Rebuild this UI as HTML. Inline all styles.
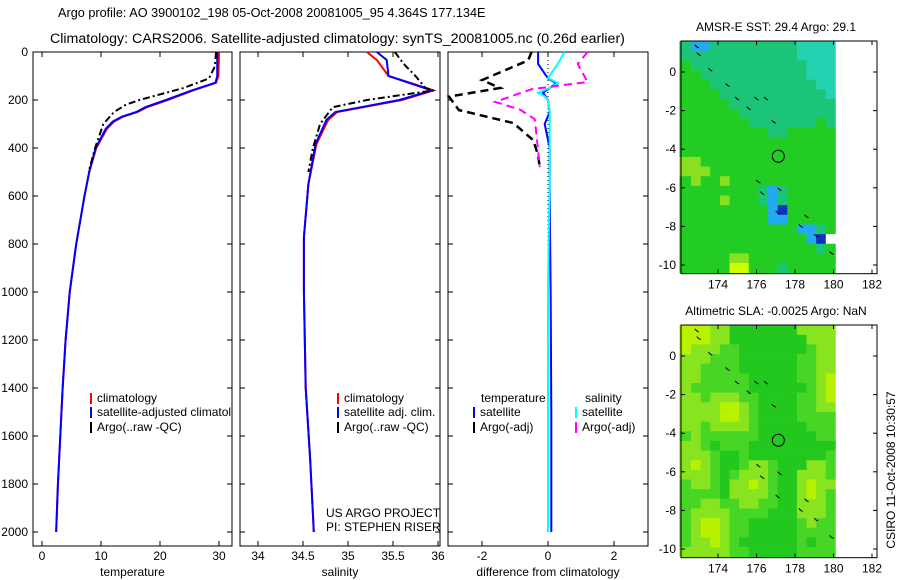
<!DOCTYPE html>
<html><head><meta charset="utf-8"><style>
body{margin:0;background:#fff}
svg{display:block;font-family:"Liberation Sans",Arial,sans-serif}
text{font-size:12px;fill:#000}
text.ttl{font-size:14.2px}
text.ttl1{font-size:12.7px}
</style></head><body>
<svg id="fig" width="900" height="580" viewBox="0 0 900 580">
<rect width="900" height="580" fill="#fff"/>
<text class="ttl1" x="58" y="17">Argo profile: AO 3900102_198 05-Oct-2008 20081005_95 4.364S 177.134E</text>
<text class="ttl" x="50" y="43">Climatology: CARS2006. Satellite-adjusted climatology: synTS_20081005.nc (0.26d earlier)</text>
<g id="g"></g>
</svg>
<script>
// ---------- data ----------
const depthTicks=[0,200,400,600,800,1000,1200,1400,1600,1800,2000];
const tempTicks=[0,10,20,30];
const salTicks=[34,34.5,35,35.5,36];
const diffTicks=[-2,0,2];
const lonTicks=[174,176,178,180,182];
const latTicks=[0,-2,-4,-6,-8,-10];

const tClimD=[0,100,128,160,200,230,250,270,290,320,400,500,600,800,1000,1200,1400,1600,1800,2000];
const tClimV=[30.0,29.9,29.5,25.6,21.3,17.8,16.2,13.7,12.2,11.0,9.2,8.0,7.2,5.8,4.7,4.0,3.5,3.1,2.7,2.4];
const tSatV =[29.7,29.7,29.4,25.4,21.0,17.5,16.0,13.5,12.0,10.8,9.1,8.0,7.2,5.8,4.7,4.0,3.5,3.1,2.7,2.4];
const tArgoD=[0,60,110,150,180,200,220,250,300,400,500];
const tArgoV=[29.5,29.3,28.3,24.0,19.5,16.5,14.2,12.2,10.4,9.0,7.9];

const sClimD=[0,33,100,150,160,200,250,283,383,550,772,1000,1400,1700,2000];
const sClimV=[35.21,35.32,35.45,35.87,35.95,35.60,34.88,34.78,34.65,34.56,34.51,34.51,34.53,34.58,34.62];
const sSatV =[35.32,35.43,35.45,35.85,35.93,35.57,34.86,34.76,34.64,34.56,34.51,34.51,34.53,34.58,34.62];
const sArgoD=[0,20,50,100,150,160,200,230,300,400,500];
const sArgoV=[35.52,35.56,35.62,35.75,35.86,35.95,35.21,34.83,34.69,34.61,34.56];

const dSatTD=[0,50,90,110,130,150,170,200,250,300,400,600,1000,1500,2000];
const dSatTV=[-0.3,-0.3,-0.1,0.0,0.25,0.05,-0.15,0.0,0.05,-0.1,0.05,0.05,0.08,0.1,0.1];
const dSatSD=[0,50,108,130,150,170,185,200,250,300,500,1000,2000];
const dSatSV=[0.5,0.3,0.0,0.3,0.05,-0.3,-0.1,0.0,0.05,0.05,0.05,0.0,0.0];
const dArgoTD=[0,35,70,117,150,186,242,296,367,430,480];
const dArgoTV=[-0.5,-0.6,-1.2,-2.0,-1.45,-3.0,-2.7,-1.05,-0.45,-0.3,-0.25];
const dArgoSD=[0,50,125,155,208,240,280,410,480];
const dArgoSV=[1.2,0.9,1.2,-0.5,-1.6,-0.85,-0.4,-0.3,-0.25];

const sstGrid=["TBBTTTTTTTTTCCCC","TTTTTTTTTTTTCCCC","GTTTTTTTTTTTTCCC","GGTTTTTTTTTTTCCC","GGGTTTTTTTTTTTCC","GGGGTTTTTTTTTTTC","GGGGGTTTTTTTTTTT","GGGGGGTTTTTTTTTT","GGGGGGGTTTTTTTGT","GGGGGGGGGTTGGGGG","GGGGGGGGGGGGGGGG","GGGGGGGGGGGGGGGG","LLGGGGGGGGGGGGGG","LLLGGGGGGGGGGGGG","GLGGLGGGGGGGGGGG","GGGGGGGGTBTGGGGG","GGGGLGGGTBTGGGGG","GGGGGGGGGBDGGGGG","GGGGGGGGGBBGGGGG","GGGGGGGGGGGGBBTG","GGGGGGGGGGGGGBDW","GGGGGGGGGGGGGGTG","GGGGGLLGGGGGGGGG","GGGGGYYGGGTGGGGG"];
const slaGrid=["YYYLLGGGGGGGLLLL","YYYLLGGGGGGGGLLL","YLLLMMGGGGGGGMLL","LLLMMMGGGGGGMMLL","LLMMMMGGGGGGMMLL","LLMMMMMGGGGGMMLY","LMMMMMMGGGGGGMLY","LLMLLLMMGGGGMMLY","LLLLYYLMGGGGMMLL","LLLLYYLMGGGGMMMM","LLMLLLLMGGGGGMMM","MLMMMMMMGGGGGGMM","LLMGMMMGGGGGGGGG","LLLMGGMGGGGGGGGM","LYLMGGMLLMGGGLLM","LLLMGMLLLMGGLLLM","MLLMGLLYLMGGLYLL","MMMMGLLLLMGGLYLM","MMLLMMLLMMGGLLLM","MLLLLMMMMGGGLLLM","MLYYLMMGGGGGMLMM","MLYYLMMGGGGGMMMM","MLLYLMGGGGGGMGMM","LLLLLMMGGGGGMMMM"];
const islandLon=[172.9,173.0,173.6,174.5,175.0,175.6,176.0,176.5,176.9,176.1,176.3,177.2,178.3,178.6,179.1,179.9,177.1];
const islandLat=[1.3,0.9,0.1,-0.7,-1.4,-1.9,-1.4,-1.4,-2.6,-5.7,-6.3,-6.1,-8.0,-7.5,-8.5,-9.4,-7.3];
const argoLon=177.134, argoLat=-4.364;

// ---------- helpers ----------
const NS="http://www.w3.org/2000/svg";
const G=document.getElementById('g');
function mk(tag,attrs,parent){const e=document.createElementNS(NS,tag);for(const k in attrs)e.setAttribute(k,attrs[k]);(parent||G).appendChild(e);return e;}
const Y0=52, KY=0.24;
const yD=d=>Y0+d*KY;
const xT=v=>42+v*5.9;
const xS=v=>258+(v-34)*90;
const xDf=v=>548+v*33;

function panel(x0,x1,ticks,fx,label,name){
  const f=mk('rect',{x:x0,y:52,width:x1-x0,height:494,fill:'none',stroke:'#000','stroke-width':1});
  
  
  ticks.forEach(t=>{const x=fx(t);
    mk('line',{x1:x,x2:x,y1:52,y2:57,stroke:'#000'});
    mk('line',{x1:x,x2:x,y1:541,y2:546,stroke:'#000'});
    const tx=mk('text',{x:x,y:560,'text-anchor':'middle'});tx.textContent=t;
    
    
  });
  depthTicks.forEach(d=>{const y=yD(d);
    mk('line',{x1:x0,x2:x0+5,y1:y,y2:y,stroke:'#000'});
    mk('line',{x1:x1-5,x2:x1,y1:y,y2:y,stroke:'#000'});
  });
  const t=mk('text',{x:(x0+x1)/2,y:576,'text-anchor':'middle'});t.textContent=label;
  
  
}
panel(33,232,tempTicks,xT,'temperature','temperature-panel');
panel(240,440,salTicks,xS,'salinity','salinity-panel');
panel(448,648,diffTicks,xDf,'difference from climatology','difference-panel');
depthTicks.forEach(d=>{const t=mk('text',{x:28,y:yD(d)+4,'text-anchor':'end'});t.textContent=d;
  
  });

function line(D,V,fx,col,dash,name,w){
  const p=mk('polyline',{points:D.map((d,i)=>fx(V[i])+','+yD(d)).join(' '),fill:'none',stroke:col,'stroke-width':w||2,'stroke-dasharray':dash||'none'});
  
  
}
line(tClimD,tClimV,xT,'#f00',null,'temp-climatology-line');
line(tClimD,tSatV,xT,'#00f',null,'temp-satellite-line');
line(tArgoD,tArgoV,xT,'#000','7,3,2,3','temp-argo-line');
line(sClimD,sClimV,xS,'#f00',null,'sal-climatology-line');
line(sClimD,sSatV,xS,'#00f',null,'sal-satellite-line');
line(sArgoD,sArgoV,xS,'#000','7,3,2,3','sal-argo-line');
line([0,2000],[0,0],xDf,'#000','1,3','diff-zero-line',1);
line(dSatTD,dSatTV,xDf,'#00f',null,'diff-temp-satellite-line');
line(dSatSD,dSatSV,xDf,'#0ff',null,'diff-sal-satellite-line');
line(dArgoTD,dArgoTV,xDf,'#000','8,5','diff-temp-argo-line',2.5);
line(dArgoSD,dArgoSV,xDf,'#f0f','8,5','diff-sal-argo-line',2);

// legends
function legend(x,y,col,txt,name){
  mk('line',{x1:x,x2:x,y1:y-9,y2:y+2,stroke:col,'stroke-width':2});
  const t=mk('text',{x:x+6,y:y});t.textContent=txt;
  
  
}
const clip=mk('clipPath',{id:'c1'});mk('rect',{x:33,y:380,width:199,height:60},clip);
const lg1=mk('g',{'clip-path':'url(#c1)'});
[[402,'#f00','climatology'],[416,'#00f','satellite-adjusted climatology'],[431,'#000','Argo(..raw -QC)']].forEach(r=>{
  mk('line',{x1:91,x2:91,y1:r[0]-9,y2:r[0]+2,stroke:r[1],'stroke-width':2},lg1);
  const t=mk('text',{x:97,y:r[0]},lg1);t.textContent=r[2];
  
  
});
legend(338,402,'#f00','climatology','salinity-legend-entry');
legend(338,416,'#00f','satellite adj. clim.','salinity-legend-entry');
legend(338,431,'#000','Argo(..raw -QC)','salinity-legend-entry');
const lt=mk('text',{x:481,y:402});lt.textContent='temperature';


const ls=mk('text',{x:585,y:402});ls.textContent='salinity';


legend(474,416,'#00f','satellite','diff-legend-entry');
legend(474,431,'#000','Argo(-adj)','diff-legend-entry');
legend(576,416,'#0ff','satellite','diff-legend-entry');
legend(576,431,'#f0f','Argo(-adj)','diff-legend-entry');
const u1=mk('text',{x:326,y:517});u1.textContent='US ARGO PROJECT';


const u2=mk('text',{x:326,y:531});u2.textContent='PI: STEPHEN RISER';



// maps
const xL=lon=>718+(lon-174)*19.25;
const sstCol={G:'#22cc22',T:'#1cc478',C:'#22d2b0',L:'#8ae020',B:'#22aaee',D:'#1030c0',Y:'#ccff00',W:'#ffffff'};
const slaCol={G:'#22c81e',M:'#48d626',L:'#88e41e',Y:'#b8f200'};
function map(top,y0lat,grid,cols,title,name){
  const yL=lat=>y0lat-lat*19.3;
  grid.forEach((row,r)=>{for(let c=0;c<row.length;c++){
    const lon=172.1+c*0.5, lat=1.6-r*0.5;
    const x=xL(lon)-(c===0?2:0), y=yL(lat);
    const cell=mk('rect',{x:x,y:y,width:xL(lon+0.5)-x+0.3,height:yL(lat-0.5)-y+0.3,fill:cols[row[c]]});
    
    
  }});
  islandLon.forEach((lo,i)=>{const x=xL(lo),y=yL(islandLat[i]);
    const p=mk('polyline',{points:(x-2)+','+(y-2)+' '+x+','+y+' '+(x+2)+','+(y+1),fill:'none',stroke:'#000','stroke-width':1});
    
    });
  const c=mk('circle',{cx:xL(argoLon),cy:yL(argoLat),r:6,fill:'none',stroke:'#000','stroke-width':1});
  
  
  const bottom=yL(-10.45);
  const f=mk('rect',{x:681,y:top,width:196,height:bottom-top,fill:'none',stroke:'#000'});
  
  
  lonTicks.forEach(l=>{const x=xL(l);
    mk('line',{x1:x,x2:x,y1:top,y2:top+4,stroke:'#000'});
    mk('line',{x1:x,x2:x,y1:bottom-4,y2:bottom,stroke:'#000'});
    const t=mk('text',{x:x,y:bottom+15,'text-anchor':'middle'});t.textContent=l;
    
    });
  latTicks.forEach(l=>{const y=yL(l);
    mk('line',{x1:681,x2:685,y1:y,y2:y,stroke:'#000'});
    mk('line',{x1:873,x2:877,y1:y,y2:y,stroke:'#000'});
    const t=mk('text',{x:676,y:y+4,'text-anchor':'end'});t.textContent=l;
    
    });
  const tt=mk('text',{x:776,y:top-10,'text-anchor':'middle','font-size':'12.5'});tt.textContent=title;
  
  
}
map(41,72,sstGrid,sstCol,'AMSR-E SST: 29.4  Argo: 29.1','sst-map');
map(325,356,slaGrid,slaCol,'Altimetric SLA: -0.0025  Argo: NaN','sla-map');
const cs=mk('text',{x:895,y:470,'text-anchor':'middle',transform:'rotate(-90 895 470)'});cs.textContent='CSIRO 11-Oct-2008 10:30:57';


</script>
</body></html>
